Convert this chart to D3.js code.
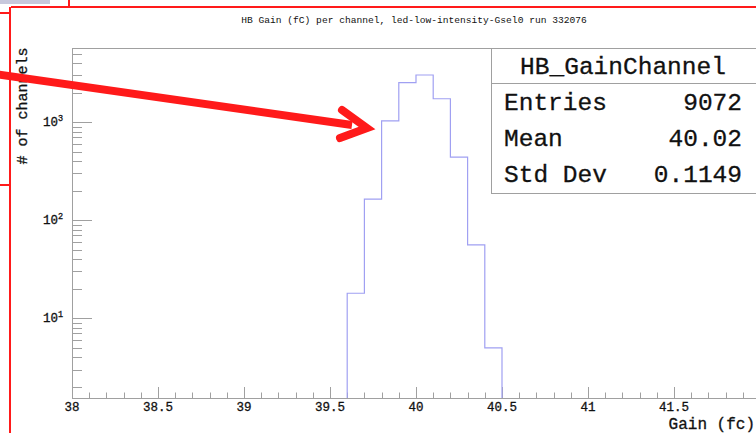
<!DOCTYPE html>
<html>
<head>
<meta charset="utf-8">
<script src="https://cdn.jsdelivr.net/npm/d3@7/dist/d3.min.js"></script>
<style>
    html, body { margin: 0; padding: 0; background: #ffffff; }
    svg { display: block; }
    text { font-family: "Liberation Mono", "Courier New", monospace; }
    .inked { stroke: #111; stroke-width: 0.3px; }
</style>
</head>
<body>
<div id="chart"></div>
<script>
var binLows = [39.6, 39.7, 39.8, 39.9, 40.0, 40.1, 40.2, 40.3, 40.4];
var binWidth = 0.1;
var binCounts = [18, 164, 1030, 2520, 3020, 1730, 440, 56, 5];

var xTickValues = [38, 38.5, 39, 39.5, 40, 40.5, 41, 41.5];
var yDecades = [10, 100, 1000];
var yDecadeExp = ['1', '2', '3'];

var statNames = ['Entries', 'Mean', 'Std Dev'];
var statValues = ['9072', '40.02', '0.1149'];

var chartTitle = 'HB Gain (fC) per channel, led-low-intensity-Gsel0 run 332076';
var xTitle = 'Gain (fc)';
var yTitle = '# of channels';
var statsTitle = 'HB_GainChannel';

(function () {
    'use strict';

    var width = 756;
    var height = 433;

    var frame = { left: 72, top: 48, right: 760, bottom: 398 };
    var frameColor = '#a0a0a0';
    var histColor = '#a0a0f2';
    var red = '#ff1a1a';

    var svg = d3.select('#chart')
        .append('svg')
        .attr('width', width)
        .attr('height', height);

    var x = d3.scaleLinear()
        .domain([38, 42])
        .range([frame.left, frame.right]);

    var y = d3.scaleLog()
        .domain([1.54, 5690])
        .range([frame.bottom, frame.top]);

    drawTitle();
    drawFrame();
    drawXAxis();
    drawYAxis();
    drawHistogram();
    drawStats();
    drawOverlay();

    function drawTitle() {
        svg.append('text')
            .attr('x', 414)
            .attr('y', 23)
            .attr('text-anchor', 'middle')
            .attr('font-size', '9.6px')
            .attr('fill', '#111')
            .text(chartTitle);
    }

    function drawFrame() {
        svg.append('line')
            .attr('x1', frame.left).attr('y1', frame.top + 0.5)
            .attr('x2', width).attr('y2', frame.top + 0.5)
            .attr('stroke', frameColor);
    }

    function drawXAxis() {
        var g = svg.append('g').attr('class', 'x-axis');
        var minor = d3.range(380, 421).map(function (d) { return d / 10; });

        g.append('line')
            .attr('x1', frame.left).attr('y1', frame.bottom + 0.5)
            .attr('x2', width).attr('y2', frame.bottom + 0.5)
            .attr('stroke', frameColor);

        g.selectAll('line.minor')
            .data(minor)
            .enter().append('line')
            .attr('class', 'minor')
            .attr('x1', function (d) { return Math.round(x(d)) + 0.5; })
            .attr('x2', function (d) { return Math.round(x(d)) + 0.5; })
            .attr('y1', frame.bottom)
            .attr('y2', function (d) {
                var major = Math.abs(d * 2 - Math.round(d * 2)) < 1e-6;
                return frame.bottom - (major ? 11 : 5.5);
            })
            .attr('stroke', frameColor);

        g.selectAll('text')
            .data(xTickValues)
            .enter().append('text')
            .attr('class', 'inked')
            .attr('x', function (d) { return x(d); })
            .attr('y', 411)
            .attr('text-anchor', 'middle')
            .attr('font-size', '12.5px')
            .attr('fill', '#111')
            .text(function (d) { return String(d); });

        svg.append('text')
            .attr('class', 'inked')
            .attr('x', 755)
            .attr('y', 429)
            .attr('text-anchor', 'end')
            .attr('font-size', '16px')
            .attr('fill', '#111')
            .text(xTitle);
    }

    function drawYAxis() {
        var g = svg.append('g').attr('class', 'y-axis');
        var minor = [];
        [1, 10, 100, 1000].forEach(function (dec) {
            d3.range(2, 10).forEach(function (m) {
                var v = dec * m;
                if (v >= y.domain()[0] && v <= y.domain()[1]) {
                    minor.push(v);
                }
            });
        });

        g.append('line')
            .attr('x1', frame.left + 0.5).attr('y1', frame.top)
            .attr('x2', frame.left + 0.5).attr('y2', frame.bottom)
            .attr('stroke', frameColor);

        g.selectAll('line.minor')
            .data(minor)
            .enter().append('line')
            .attr('class', 'minor')
            .attr('x1', frame.left)
            .attr('x2', frame.left + 10)
            .attr('y1', function (d) { return Math.round(y(d)) + 0.5; })
            .attr('y2', function (d) { return Math.round(y(d)) + 0.5; })
            .attr('stroke', frameColor);

        g.selectAll('line.major')
            .data(yDecades)
            .enter().append('line')
            .attr('class', 'major')
            .attr('x1', frame.left)
            .attr('x2', frame.left + 20)
            .attr('y1', function (d) { return Math.round(y(d)) + 0.5; })
            .attr('y2', function (d) { return Math.round(y(d)) + 0.5; })
            .attr('stroke', frameColor);

        var labels = g.selectAll('text.tick')
            .data(yDecades)
            .enter().append('text')
            .attr('class', 'tick inked')
            .attr('x', 43)
            .attr('y', function (d) { return y(d) + 4; })
            .attr('font-size', '12.5px')
            .attr('fill', '#111');
        labels.append('tspan').text('10');
        labels.append('tspan')
            .attr('dy', -5)
            .attr('font-size', '8.5px')
            .text(function (d, i) { return yDecadeExp[i]; });

        svg.append('text')
            .attr('class', 'inked')
            .attr('transform', 'translate(27,106) rotate(-90)')
            .attr('text-anchor', 'middle')
            .attr('font-size', '15px')
            .attr('fill', '#111')
            .text(yTitle);
    }

    function drawHistogram() {
        var floor = y.domain()[0];
        var pts = [{ x: binLows[0], y: floor }];
        binLows.forEach(function (lo, i) {
            pts.push({ x: lo, y: binCounts[i] });
        });
        var last = binLows.length - 1;
        pts.push({ x: binLows[last] + binWidth, y: binCounts[last] });
        pts.push({ x: binLows[last] + binWidth, y: floor });

        var line = d3.line()
            .x(function (d) { return x(d.x); })
            .y(function (d) { return y(d.y); })
            .curve(d3.curveStepAfter);

        svg.append('path')
            .datum(pts)
            .attr('d', line)
            .attr('fill', 'none')
            .attr('stroke', histColor)
            .attr('stroke-width', 1.2);
    }

    function drawStats() {
        var g = svg.append('g').attr('class', 'stats');
        var left = 491;
        var top = 48;
        var bottom = 193;
        var rowH = (bottom - top) / 4;

        g.append('rect')
            .attr('x', left + 0.5).attr('y', top + 0.5)
            .attr('width', width + 10 - left).attr('height', bottom - top)
            .attr('fill', '#ffffff')
            .attr('stroke', frameColor);

        g.append('line')
            .attr('x1', left).attr('x2', width)
            .attr('y1', 83.5).attr('y2', 83.5)
            .attr('stroke', frameColor);

        g.append('text')
            .attr('class', 'inked')
            .attr('x', 623)
            .attr('y', top + rowH / 2 + 7.5)
            .attr('text-anchor', 'middle')
            .attr('font-size', '24.5px')
            .attr('fill', '#111')
            .text(statsTitle);

        function rowY(i) {
            return top + rowH * (i + 1.5) + 7.5;
        }

        g.selectAll('text.name')
            .data(statNames)
            .enter().append('text')
            .attr('class', 'name inked')
            .attr('x', 504)
            .attr('y', function (d, i) { return rowY(i); })
            .attr('font-size', '24.5px')
            .attr('fill', '#111')
            .text(function (d) { return d; });

        g.selectAll('text.value')
            .data(statValues)
            .enter().append('text')
            .attr('class', 'value inked')
            .attr('x', 742)
            .attr('y', function (d, i) { return rowY(i); })
            .attr('text-anchor', 'end')
            .attr('font-size', '24.5px')
            .attr('fill', '#111')
            .text(function (d) { return d; });
    }

    function drawOverlay() {
        var g = svg.append('g').attr('class', 'overlay');

        // thumbnail strip at top-left corner
        g.append('rect')
            .attr('x', 0).attr('y', 0)
            .attr('width', 50).attr('height', 4)
            .attr('fill', '#c8c8dc');

        var redLines = [
            [11, 7, width, 7],
            [10, 7, 10, height],
            [69, 0, 69, 7],
            [0, 13, 10, 13],
            [0, 185, 10, 185]
        ];
        g.selectAll('line')
            .data(redLines)
            .enter().append('line')
            .attr('x1', function (d) { return d[0]; })
            .attr('y1', function (d) { return d[1]; })
            .attr('x2', function (d) { return d[2]; })
            .attr('y2', function (d) { return d[3]; })
            .attr('stroke', red)
            .attr('stroke-width', 2);

        g.append('line')
            .attr('x1', -5).attr('y1', 74)
            .attr('x2', 352).attr('y2', 125)
            .attr('stroke', red)
            .attr('stroke-width', 8);

        g.append('path')
            .attr('d', 'M342,110 L367,128 L340,138')
            .attr('fill', 'none')
            .attr('stroke', red)
            .attr('stroke-width', 8)
            .attr('stroke-linejoin', 'miter')
            .attr('stroke-linecap', 'round');
    }

}());
</script>
</body>
</html>
